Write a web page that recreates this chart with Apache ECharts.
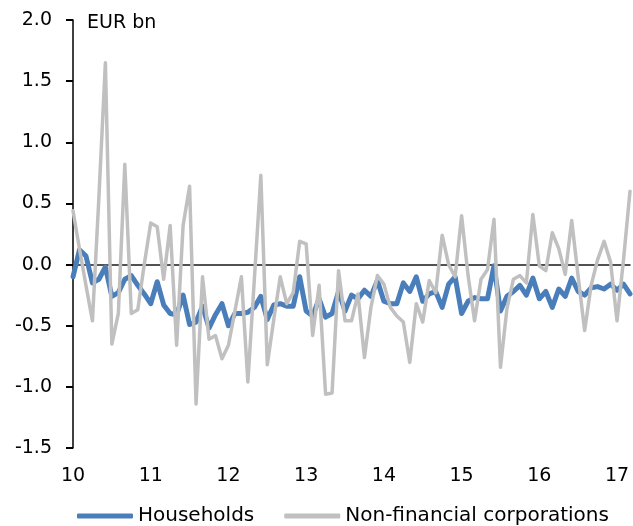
<!DOCTYPE html>
<html>
<head>
<meta charset="utf-8">
<script src="https://cdn.jsdelivr.net/npm/echarts@6/dist/echarts.min.js"></script>
<style>
  html, body { margin: 0; padding: 0; background: #fff; }
  #chart { width: 633px; height: 526px; }
</style>
</head>
<body>
<div id="chart"></div>
<script>
// monthly observations, Jan 2010 onwards
const years = ["10", "11", "12", "13", "14", "15", "16", "17"];
const months = [];
for (let i = 0; i < 87; i++) {
  months.push(years[Math.floor(i / 12)] + "-" + String((i % 12) + 1).padStart(2, "0"));
}

const households = [
  -0.10, 0.12, 0.07, -0.15, -0.12, -0.02, -0.26, -0.23, -0.12, -0.09, -0.17, -0.24,
  -0.32, -0.14, -0.33, -0.40, -0.41, -0.25, -0.49, -0.47, -0.34, -0.52, -0.41, -0.32,
  -0.50, -0.40, -0.40, -0.39, -0.35, -0.26, -0.45, -0.33, -0.32, -0.34, -0.34, -0.10,
  -0.38, -0.42, -0.28, -0.43, -0.40, -0.22, -0.38, -0.25, -0.28, -0.21, -0.26, -0.13,
  -0.30, -0.32, -0.32, -0.15, -0.22, -0.10, -0.30, -0.24, -0.22, -0.35, -0.16, -0.10,
  -0.40, -0.30, -0.27, -0.28, -0.28, -0.01, -0.38, -0.26, -0.22, -0.17, -0.25, -0.11,
  -0.28, -0.22, -0.35, -0.20, -0.26, -0.11, -0.22, -0.25, -0.19, -0.18, -0.20, -0.16,
  -0.21, -0.16, -0.24
];

const nonFinCorps = [
  0.44, 0.13, -0.17, -0.46, 0.55, 1.65, -0.65, -0.40, 0.82, -0.40, -0.37, 0.00,
  0.34, 0.31, -0.12, 0.32, -0.66, 0.32, 0.64, -1.14, -0.10, -0.61, -0.58, -0.77,
  -0.66, -0.38, -0.10, -0.96, -0.12, 0.73, -0.82, -0.45, -0.10, -0.32, -0.23, 0.19,
  0.17, -0.58, -0.17, -1.06, -1.05, -0.05, -0.46, -0.46, -0.24, -0.76, -0.35, -0.09,
  -0.16, -0.35, -0.42, -0.47, -0.80, -0.32, -0.47, -0.13, -0.23, 0.24, 0.00, -0.10,
  0.40, -0.09, -0.46, -0.12, -0.04, 0.37, -0.84, -0.36, -0.12, -0.09, -0.15, 0.41,
  -0.01, -0.05, 0.26, 0.13, -0.08, 0.36, -0.10, -0.54, -0.17, 0.04, 0.19, 0.02,
  -0.46, 0.04, 0.60
];

const font = "DejaVu Sans";

const chart = echarts.init(document.getElementById("chart"));

chart.setOption({
  animation: false,
  backgroundColor: "#fff",
  textStyle: { fontFamily: font, color: "#000" },
  title: {
    text: "EUR bn",
    left: 82,
    top: 9,
    textStyle: { fontFamily: font, fontSize: 19, fontWeight: "normal", color: "#000" }
  },
  legend: {
    left: 72,
    top: 501,
    icon: "roundRect",
    itemWidth: 56,
    itemHeight: 5,
    itemGap: 30,
    textStyle: { fontFamily: font, fontSize: 20, color: "#000" },
    data: ["Households", "Non-financial corporations"]
  },
  grid: { left: 73, right: 3, top: 20, bottom: 78, containLabel: false },
  xAxis: [
    {
      type: "category",
      data: months,
      boundaryGap: false,
      axisLine: { show: false, onZero: false },
      axisTick: { show: false },
      axisLabel: {
        interval: function (index) { return index % 12 === 0; },
        formatter: function (value) { return value.slice(0, 2); },
        margin: 19,
        fontSize: 19,
        color: "#000",
        fontFamily: font
      },
      splitLine: { show: false }
    },
    {
      // zero line
      type: "category",
      data: months,
      boundaryGap: false,
      position: "bottom",
      axisLine: { show: true, onZero: true, lineStyle: { color: "#1a1a1a", width: 1.5 } },
      axisTick: { show: false },
      axisLabel: { show: false },
      splitLine: { show: false }
    }
  ],
  yAxis: {
    type: "value",
    position: "left",
    min: -1.5,
    max: 2.0,
    interval: 0.5,
    axisLine: { show: true, onZero: false, lineStyle: { color: "#000", width: 1.5 } },
    axisTick: { show: true, inside: false, length: 7, lineStyle: { color: "#000", width: 2 } },
    axisLabel: {
      margin: 21,
      fontSize: 19,
      color: "#000",
      fontFamily: font,
      formatter: function (v) { return v.toFixed(1); }
    },
    splitLine: { show: false }
  },
  series: [
    {
      name: "Households",
      type: "line",
      data: households,
      symbol: "none",
      itemStyle: { color: "#4a7ebb" },
      lineStyle: { color: "#4a7ebb", width: 5, cap: "round", join: "round" }
    },
    {
      name: "Non-financial corporations",
      type: "line",
      data: nonFinCorps,
      symbol: "none",
      itemStyle: { color: "#c0c0c0" },
      lineStyle: { color: "#c0c0c0", width: 3.5, cap: "round", join: "round" }
    }
  ]
});
</script>
</body>
</html>
